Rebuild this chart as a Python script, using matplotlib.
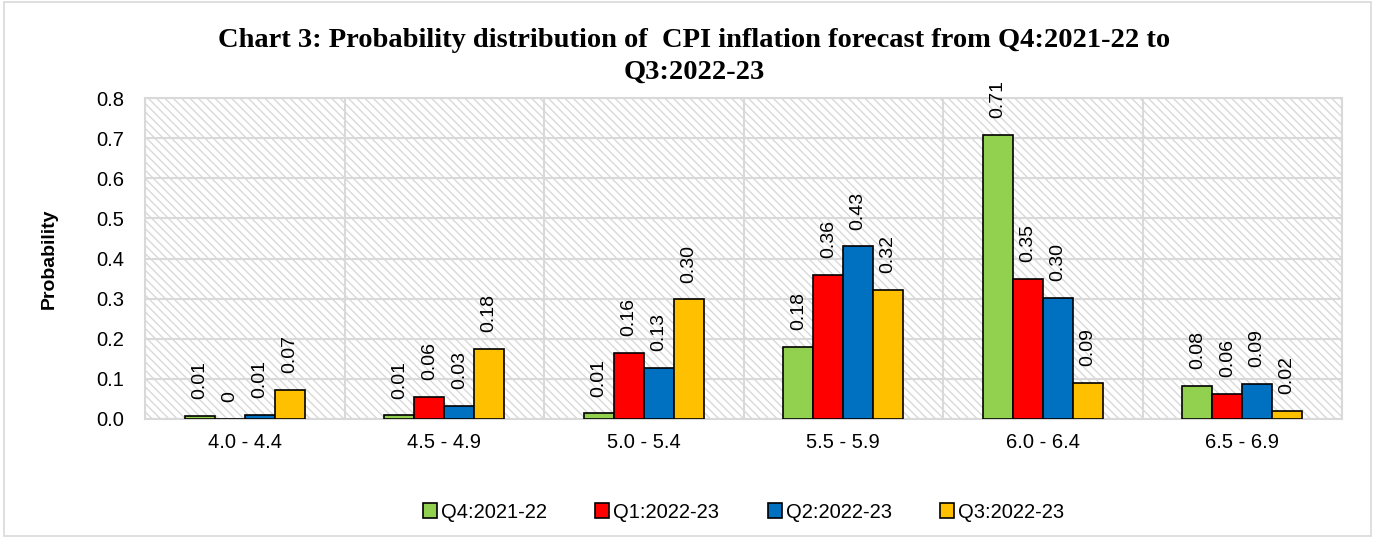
import matplotlib.pyplot as plt
import numpy as np
from matplotlib.patches import Rectangle

plt.rcParams["hatch.color"] = "#d9d9d9"
plt.rcParams["hatch.linewidth"] = 1.0

categories = ["4.0 - 4.4", "4.5 - 4.9", "5.0 - 5.4", "5.5 - 5.9", "6.0 - 6.4", "6.5 - 6.9"]
series_names = ["Q4:2021-22", "Q1:2022-23", "Q2:2022-23", "Q3:2022-23"]
q4_2122 = [0.007, 0.009, 0.014, 0.180, 0.708, 0.082]
q1_2223 = [0.000, 0.055, 0.165, 0.360, 0.350, 0.063]
q2_2223 = [0.011, 0.032, 0.128, 0.430, 0.302, 0.088]
q3_2223 = [0.073, 0.175, 0.298, 0.322, 0.089, 0.020]
q4_labels = ["0.01", "0.01", "0.01", "0.18", "0.71", "0.08"]
q1_labels = ["0", "0.06", "0.16", "0.36", "0.35", "0.06"]
q2_labels = ["0.01", "0.03", "0.13", "0.43", "0.30", "0.09"]
q3_labels = ["0.07", "0.18", "0.30", "0.32", "0.09", "0.02"]
colors = ["#92D050", "#FF0000", "#0070C0", "#FFC000"]
title_lines = ["Chart 3: Probability distribution of  CPI inflation forecast from Q4:2021-22 to",
               "Q3:2022-23"]

values = [q4_2122, q1_2223, q2_2223, q3_2223]
labels = [q4_labels, q1_labels, q2_labels, q3_labels]
FONT = "Liberation Sans"

fig = plt.figure(figsize=(13.75, 5.38), dpi=100)
fig.patches.append(Rectangle((0.003, 0.003), 0.994, 0.994, transform=fig.transFigure,
                             fill=False, edgecolor="#d9d9d9", linewidth=1.2))
ax = fig.add_axes([0.1055, 0.2212, 0.8705, 0.5966])

# hatched plot background
ax.add_patch(Rectangle((0, 0), 1, 1, transform=ax.transAxes, facecolor="white",
                       edgecolor="#d9d9d9", hatch="\\\\\\\\", linewidth=0, zorder=0))

x = np.arange(len(categories))
width = 0.15
for i, (vals, labs, col, name) in enumerate(zip(values, labels, colors, series_names)):
    pos = x + (i - 1.5) * width
    ax.bar(pos, vals, width, color=col, edgecolor="black", linewidth=1.2,
           label=name, zorder=3)
    for px, v, t in zip(pos, vals, labs):
        ax.text(px, v + 0.042, t, rotation=90, ha="center", va="bottom",
                fontsize=14, family=FONT, clip_on=False, zorder=4)

ax.set_xlim(-0.5, len(categories) - 0.5)
ax.set_ylim(0, 0.8)
yt = np.arange(0, 0.81, 0.1)
ax.set_yticks(yt)
ax.set_yticklabels([f"{v:.1f}" for v in yt], fontsize=14.5, family=FONT)
ax.set_xticks(x)
ax.set_xticklabels(categories, fontsize=14.5, family=FONT)
ax.set_xticks(np.arange(-0.5, len(categories)), minor=True)
ax.tick_params(axis="both", which="both", length=0)
ax.tick_params(axis="x", pad=10)
ax.tick_params(axis="y", pad=15)
ax.grid(axis="y", color="#d9d9d9", linewidth=1.5, zorder=1)
ax.grid(axis="x", which="minor", color="#d9d9d9", linewidth=1.5, zorder=1)
ax.set_axisbelow(True)
for sp in ax.spines.values():
    sp.set_color("#d9d9d9")
    sp.set_linewidth(1.5)

ax.set_ylabel("Probability", fontsize=14, fontweight="bold", family=FONT,
              labelpad=28)

# two-line title, drawn as separate lines
fig.text(0.505, 0.925, title_lines[0], ha="center", va="center", fontsize=20.5,
         fontweight="bold", family="Liberation Serif")
fig.text(0.505, 0.866, title_lines[1], ha="center", va="center", fontsize=20.5,
         fontweight="bold", family="Liberation Serif")

ax.legend(loc="center", bbox_to_anchor=(0.5, -0.29), ncol=4, frameon=False,
          prop={"family": FONT, "size": 14.5},
          handlelength=0.7, handleheight=0.7, handletextpad=0.2, columnspacing=2.4)

fig.savefig("out.png", dpi=100)
